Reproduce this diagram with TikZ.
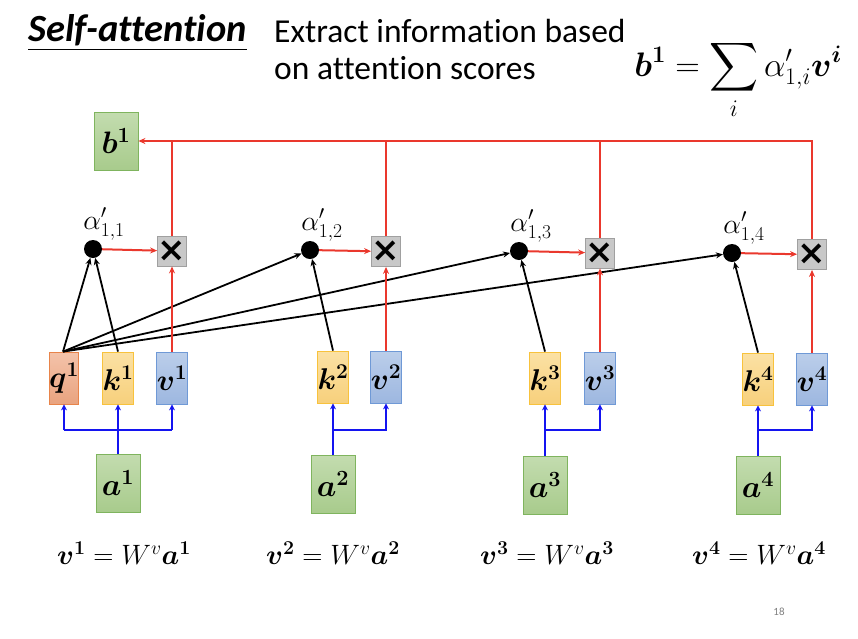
\RequirePackage{fix-cm}
\documentclass[tikz,border=0pt]{standalone}
\usepackage{amsmath}
\DeclareFontShape{OMX}{cmex}{m}{n}{<-> cmex10}{}
\usepackage[no-math]{fontspec}
\setmainfont{Carlito}[Ligatures=NoCommon]
\newfontfamily\xfont{DejaVu Sans}
\usepackage{bm}
\usetikzlibrary{arrows.meta}
\definecolor{qt}{HTML}{F4C3AA}
\definecolor{qb}{HTML}{E9A37F}
\definecolor{qd}{HTML}{E8844A}
\definecolor{kt}{HTML}{FBE1A4}
\definecolor{kb}{HTML}{F7D07C}
\definecolor{kd}{HTML}{F8C23C}
\definecolor{vt}{HTML}{BBCEEA}
\definecolor{vb}{HTML}{9DB7E0}
\definecolor{vd}{HTML}{6F99D6}
\definecolor{gt}{HTML}{C3DCAF}
\definecolor{gb}{HTML}{A8CB8C}
\definecolor{gd}{HTML}{7FB45E}
\definecolor{xf}{HTML}{C8C8C8}
\definecolor{xd}{HTML}{A0A0A0}
\definecolor{myred}{RGB}{234,56,45}
\definecolor{myblue}{RGB}{20,20,240}
\tikzset{
  vec/.style={draw, line width=0.8pt, minimum width=28pt, minimum height=52pt, inner sep=0pt, font=\fontsize{30}{30}\selectfont},
  qbox/.style={vec, draw=qd, top color=qt, bottom color=qb},
  kbox/.style={vec, draw=kd, top color=kt, bottom color=kb},
  vbox/.style={vec, draw=vd, top color=vt, bottom color=vb},
  gbox/.style={draw=gd, line width=0.8pt, top color=gt, bottom color=gb, minimum width=44pt, minimum height=58pt, inner sep=0pt, font=\fontsize{31}{31}\selectfont},
  dotn/.style={circle, fill=black, minimum size=18pt, inner sep=0pt},
  mulbox/.style={draw=xd, fill=xf, line width=0.8pt, minimum width=29pt, minimum height=30pt, inner sep=0pt, font=\fontsize{34}{34}\selectfont\xfont\bfseries},
  alab/.style={font=\fontsize{28}{28}\selectfont, inner sep=0pt},
  blk/.style={line width=1.8pt, black, -{Stealth[length=7pt,width=6pt]}},
  rd/.style={line width=2pt, myred},
  rda/.style={rd, -{Stealth[length=7pt,width=6pt]}},
  bl/.style={line width=2pt, myblue},
  bla/.style={bl, -{Stealth[length=6pt,width=6pt]}},
  eqn/.style={font=\fontsize{28}{28}\selectfont, inner sep=0pt},
}
\begin{document}
\begin{tikzpicture}[x=1pt,y=-1pt]
\useasboundingbox (0,0) rectangle (858,638);
% title
\node[anchor=base west, inner sep=0pt, font=\fontsize{38.5}{38.5}\selectfont\bfseries\itshape] (title) at (28,41) {Self-attention};
\draw[line width=1pt] ([yshift=-8pt]title.base west) -- ([yshift=-8pt]title.base east);
\node[anchor=base west, inner sep=0pt, font=\fontsize{33.5}{33.5}\selectfont] (t1) at (274,42) {Extract information based};
\node[anchor=base west, inner sep=0pt, font=\fontsize{33.5}{33.5}\selectfont] (t2) at (274,79) {on attention scores};
\node[inner sep=0pt, font=\fontsize{34}{34}\selectfont] (formula) at (738,80) {$\displaystyle \bm{b}^{\bm{1}} = \sum_i \alpha'_{1,i}\bm{v}^{\bm{i}}$};
% b1
\node[gbox] (b1) at (116,141) {$\bm{b}^{\bm{1}}$};
% dots
\node[dotn] (d1) at (93,249) {};
\node[dotn] (d2) at (310,250) {};
\node[dotn] (d3) at (519,251) {};
\node[dotn] (d4) at (732,253) {};
\node[alab] (al1) at (104,224) {$\alpha'_{1,1}$};
\node[alab] (al2) at (322,225) {$\alpha'_{1,2}$};
\node[alab] (al3) at (531,226) {$\alpha'_{1,3}$};
\node[alab] (al4) at (744,228) {$\alpha'_{1,4}$};
% multiply boxes
\node[mulbox] (m1) at (172,251) {×};
\node[mulbox] (m2) at (386,251.5) {×};
\node[mulbox] (m3) at (600,253) {×};
\node[mulbox] (m4) at (812,254.5) {×};
% q k v
\node[qbox] (q1) at (64,378) {$\bm{q}^{\bm{1}}$};
\node[kbox] (k1) at (118,378) {$\bm{k}^{\bm{1}}$};
\node[vbox] (v1) at (172,378) {$\bm{v}^{\bm{1}}$};
\node[kbox] (k2) at (333,377) {$\bm{k}^{\bm{2}}$};
\node[vbox] (v2) at (386,377) {$\bm{v}^{\bm{2}}$};
\node[kbox] (k3) at (545,378) {$\bm{k}^{\bm{3}}$};
\node[vbox] (v3) at (600,378) {$\bm{v}^{\bm{3}}$};
\node[kbox] (k4) at (758,379) {$\bm{k}^{\bm{4}}$};
\node[vbox] (v4) at (812,379) {$\bm{v}^{\bm{4}}$};
% a
\node[gbox] (a1) at (118,483) {$\bm{a}^{\bm{1}}$};
\node[gbox] (a2) at (333,484) {$\bm{a}^{\bm{2}}$};
\node[gbox] (a3) at (545,485) {$\bm{a}^{\bm{3}}$};
\node[gbox] (a4) at (758,485) {$\bm{a}^{\bm{4}}$};
% equations
\node[eqn] (e1) at (124,553) {$\bm{v}^{\bm{1}} = W^v\bm{a}^{\bm{1}}$};
\node[eqn] (e2) at (333,553) {$\bm{v}^{\bm{2}} = W^v\bm{a}^{\bm{2}}$};
\node[eqn] (e3) at (547,553) {$\bm{v}^{\bm{3}} = W^v\bm{a}^{\bm{3}}$};
\node[eqn] (e4) at (759,553) {$\bm{v}^{\bm{4}} = W^v\bm{a}^{\bm{4}}$};
\node[font=\fontsize{11}{11}\selectfont, text=gray] (pg) at (779,612) {18};
% black arrows
\coordinate (qtop) at ([xshift=-1pt]q1.north);
\draw[blk] (qtop) -- (d1);
\draw[blk] (qtop) -- (d2);
\draw[blk] (qtop) -- (d3);
\draw[blk] (qtop) -- (d4);
\draw[blk] (k1.north) -- (d1);
\draw[blk] (k2.north) -- (d2);
\draw[blk] (k3.north) -- (d3);
\draw[blk] (k4.north) -- (d4);
% red
\foreach \i in {1,2,3,4}{
  \draw[rda] (d\i) -- (m\i);
  \draw[rda] (v\i.north) -- (m\i.south);
}
\draw[rda] (m4.north) |- (b1.east);
\draw[rd] (m1.north) -- (m1.north |- b1.east);
\draw[rd] (m2.north) -- (m2.north |- b1.east);
\draw[rd] (m3.north) -- (m3.north |- b1.east);
% blue
\coordinate (j1) at (118,430);
\draw[bl] (q1.south |- j1) -- (v1.south |- j1);
\draw[bla] (q1.south |- j1) -- (q1.south);
\draw[bla] (v1.south |- j1) -- (v1.south);
\draw[bla] (a1.north) -- (k1.south);
\foreach \i in {2,3,4}{
  \coordinate (j\i) at (k\i.south |- j1);
  \draw[bla] (j\i) -| (v\i.south);
  \draw[bla] (a\i.north) -- (k\i.south);
}
\end{tikzpicture}
\end{document}
